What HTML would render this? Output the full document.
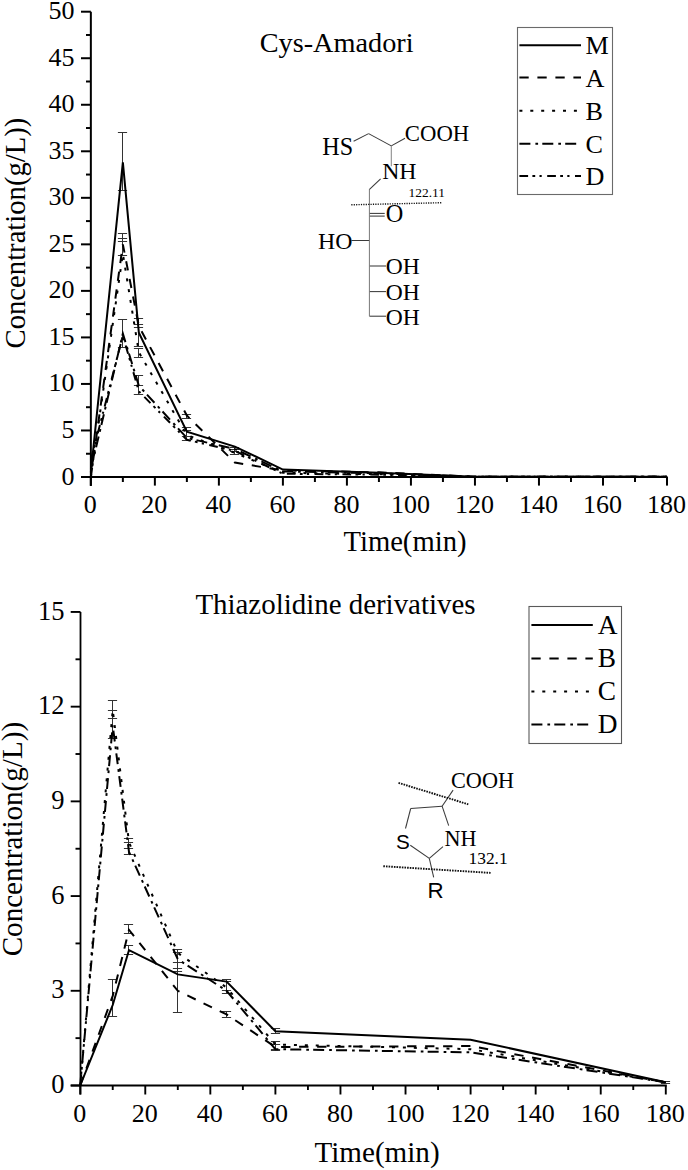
<!DOCTYPE html><html><head><meta charset="utf-8"><style>html,body{margin:0;padding:0;background:#fff;}svg{display:block;}</style></head><body>
<svg width="688" height="1170" viewBox="0 0 688 1170">
<rect width="688" height="1170" fill="#fff"/>
<line x1="122.50" y1="190.50" x2="122.50" y2="132.50" stroke="#333" stroke-width="1" />
<line x1="117.90" y1="190.50" x2="127.10" y2="190.50" stroke="#333" stroke-width="1" />
<line x1="117.90" y1="132.50" x2="127.10" y2="132.50" stroke="#333" stroke-width="1" />
<line x1="122.50" y1="255.50" x2="122.50" y2="233.50" stroke="#333" stroke-width="1" />
<line x1="117.90" y1="255.50" x2="127.10" y2="255.50" stroke="#333" stroke-width="1" />
<line x1="117.90" y1="233.50" x2="127.10" y2="233.50" stroke="#333" stroke-width="1" />
<line x1="122.50" y1="241.50" x2="122.50" y2="238.50" stroke="#333" stroke-width="1" />
<line x1="117.90" y1="241.50" x2="127.10" y2="241.50" stroke="#333" stroke-width="1" />
<line x1="117.90" y1="238.50" x2="127.10" y2="238.50" stroke="#333" stroke-width="1" />
<line x1="122.50" y1="347.50" x2="122.50" y2="319.50" stroke="#333" stroke-width="1" />
<line x1="117.90" y1="347.50" x2="127.10" y2="347.50" stroke="#333" stroke-width="1" />
<line x1="117.90" y1="319.50" x2="127.10" y2="319.50" stroke="#333" stroke-width="1" />
<line x1="138.50" y1="346.50" x2="138.50" y2="318.50" stroke="#333" stroke-width="1" />
<line x1="133.90" y1="346.50" x2="143.10" y2="346.50" stroke="#333" stroke-width="1" />
<line x1="133.90" y1="318.50" x2="143.10" y2="318.50" stroke="#333" stroke-width="1" />
<line x1="138.50" y1="327.50" x2="138.50" y2="324.50" stroke="#333" stroke-width="1" />
<line x1="133.90" y1="327.50" x2="143.10" y2="327.50" stroke="#333" stroke-width="1" />
<line x1="133.90" y1="324.50" x2="143.10" y2="324.50" stroke="#333" stroke-width="1" />
<line x1="138.50" y1="357.50" x2="138.50" y2="348.50" stroke="#333" stroke-width="1" />
<line x1="133.90" y1="357.50" x2="143.10" y2="357.50" stroke="#333" stroke-width="1" />
<line x1="133.90" y1="348.50" x2="143.10" y2="348.50" stroke="#333" stroke-width="1" />
<line x1="138.50" y1="394.50" x2="138.50" y2="375.50" stroke="#333" stroke-width="1" />
<line x1="133.90" y1="394.50" x2="143.10" y2="394.50" stroke="#333" stroke-width="1" />
<line x1="133.90" y1="375.50" x2="143.10" y2="375.50" stroke="#333" stroke-width="1" />
<line x1="138.50" y1="394.50" x2="138.50" y2="385.50" stroke="#333" stroke-width="1" />
<line x1="133.90" y1="394.50" x2="143.10" y2="394.50" stroke="#333" stroke-width="1" />
<line x1="133.90" y1="385.50" x2="143.10" y2="385.50" stroke="#333" stroke-width="1" />
<line x1="186.50" y1="436.50" x2="186.50" y2="427.50" stroke="#333" stroke-width="1" />
<line x1="181.90" y1="436.50" x2="191.10" y2="436.50" stroke="#333" stroke-width="1" />
<line x1="181.90" y1="427.50" x2="191.10" y2="427.50" stroke="#333" stroke-width="1" />
<line x1="186.50" y1="418.50" x2="186.50" y2="414.50" stroke="#333" stroke-width="1" />
<line x1="181.90" y1="418.50" x2="191.10" y2="418.50" stroke="#333" stroke-width="1" />
<line x1="181.90" y1="414.50" x2="191.10" y2="414.50" stroke="#333" stroke-width="1" />
<line x1="186.50" y1="440.50" x2="186.50" y2="430.50" stroke="#333" stroke-width="1" />
<line x1="181.90" y1="440.50" x2="191.10" y2="440.50" stroke="#333" stroke-width="1" />
<line x1="181.90" y1="430.50" x2="191.10" y2="430.50" stroke="#333" stroke-width="1" />
<line x1="234.50" y1="454.50" x2="234.50" y2="447.50" stroke="#333" stroke-width="1" />
<line x1="229.90" y1="454.50" x2="239.10" y2="454.50" stroke="#333" stroke-width="1" />
<line x1="229.90" y1="447.50" x2="239.10" y2="447.50" stroke="#333" stroke-width="1" />
<line x1="234.50" y1="451.50" x2="234.50" y2="449.50" stroke="#333" stroke-width="1" />
<line x1="229.90" y1="451.50" x2="239.10" y2="451.50" stroke="#333" stroke-width="1" />
<line x1="229.90" y1="449.50" x2="239.10" y2="449.50" stroke="#333" stroke-width="1" />
<polyline points="90.85,472.35 122.86,162.46 138.86,332.76 186.87,431.59 234.89,446.57 282.90,469.56 378.92,472.81 474.95,476.81 666.99,476.81" fill="none" stroke="#000" stroke-width="2.0" stroke-linejoin="miter" />
<polyline points="90.85,477.00 122.86,244.35 138.86,326.24 186.87,415.58 234.89,462.58 282.90,470.49 378.92,472.35 474.95,476.81 666.99,476.81" fill="none" stroke="#000" stroke-width="2.0" stroke-linejoin="miter" stroke-dasharray="9.3 8.7"/>
<polyline points="90.85,477.00 122.86,253.66 138.86,352.30 186.87,435.12 234.89,452.80 282.90,472.81 378.92,474.21 474.95,476.81 666.99,476.81" fill="none" stroke="#000" stroke-width="2.0" stroke-linejoin="miter" stroke-dasharray="3 7.9"/>
<polyline points="90.85,469.56 122.86,333.69 138.86,385.80 186.87,437.91 234.89,449.08 282.90,471.42 378.92,473.28 474.95,476.81 666.99,476.81" fill="none" stroke="#000" stroke-width="2.0" stroke-linejoin="miter" stroke-dasharray="11 5 2.7 4.2"/>
<polyline points="90.85,460.25 122.86,335.55 138.86,391.38 186.87,439.78 234.89,450.94 282.90,473.74 378.92,474.67 474.95,476.81 666.99,476.81" fill="none" stroke="#000" stroke-width="2.0" stroke-linejoin="miter" stroke-dasharray="8.7 4.3 2.8 4.3 2.2 5.5"/>
<line x1="90.85" y1="11.70" x2="90.85" y2="486.00" stroke="#000" stroke-width="2.0" />
<line x1="81.00" y1="477.00" x2="667.50" y2="477.00" stroke="#000" stroke-width="2.0" />
<line x1="81.00" y1="477.00" x2="90.85" y2="477.00" stroke="#000" stroke-width="2.0" />
<text x="74.50" y="484.50" font-size="26" text-anchor="end" font-family='"Liberation Serif", serif' >0</text>
<line x1="81.00" y1="430.47" x2="90.85" y2="430.47" stroke="#000" stroke-width="2.0" />
<text x="74.50" y="437.97" font-size="26" text-anchor="end" font-family='"Liberation Serif", serif' >5</text>
<line x1="81.00" y1="383.94" x2="90.85" y2="383.94" stroke="#000" stroke-width="2.0" />
<text x="74.50" y="391.44" font-size="26" text-anchor="end" font-family='"Liberation Serif", serif' >10</text>
<line x1="81.00" y1="337.41" x2="90.85" y2="337.41" stroke="#000" stroke-width="2.0" />
<text x="74.50" y="344.91" font-size="26" text-anchor="end" font-family='"Liberation Serif", serif' >15</text>
<line x1="81.00" y1="290.88" x2="90.85" y2="290.88" stroke="#000" stroke-width="2.0" />
<text x="74.50" y="298.38" font-size="26" text-anchor="end" font-family='"Liberation Serif", serif' >20</text>
<line x1="81.00" y1="244.35" x2="90.85" y2="244.35" stroke="#000" stroke-width="2.0" />
<text x="74.50" y="251.85" font-size="26" text-anchor="end" font-family='"Liberation Serif", serif' >25</text>
<line x1="81.00" y1="197.82" x2="90.85" y2="197.82" stroke="#000" stroke-width="2.0" />
<text x="74.50" y="205.32" font-size="26" text-anchor="end" font-family='"Liberation Serif", serif' >30</text>
<line x1="81.00" y1="151.29" x2="90.85" y2="151.29" stroke="#000" stroke-width="2.0" />
<text x="74.50" y="158.79" font-size="26" text-anchor="end" font-family='"Liberation Serif", serif' >35</text>
<line x1="81.00" y1="104.76" x2="90.85" y2="104.76" stroke="#000" stroke-width="2.0" />
<text x="74.50" y="112.26" font-size="26" text-anchor="end" font-family='"Liberation Serif", serif' >40</text>
<line x1="81.00" y1="58.23" x2="90.85" y2="58.23" stroke="#000" stroke-width="2.0" />
<text x="74.50" y="65.73" font-size="26" text-anchor="end" font-family='"Liberation Serif", serif' >45</text>
<line x1="81.00" y1="11.70" x2="90.85" y2="11.70" stroke="#000" stroke-width="2.0" />
<text x="74.50" y="19.20" font-size="26" text-anchor="end" font-family='"Liberation Serif", serif' >50</text>
<line x1="86.00" y1="453.74" x2="90.85" y2="453.74" stroke="#000" stroke-width="2.0" />
<line x1="86.00" y1="407.21" x2="90.85" y2="407.21" stroke="#000" stroke-width="2.0" />
<line x1="86.00" y1="360.68" x2="90.85" y2="360.68" stroke="#000" stroke-width="2.0" />
<line x1="86.00" y1="314.14" x2="90.85" y2="314.14" stroke="#000" stroke-width="2.0" />
<line x1="86.00" y1="267.62" x2="90.85" y2="267.62" stroke="#000" stroke-width="2.0" />
<line x1="86.00" y1="221.09" x2="90.85" y2="221.09" stroke="#000" stroke-width="2.0" />
<line x1="86.00" y1="174.56" x2="90.85" y2="174.56" stroke="#000" stroke-width="2.0" />
<line x1="86.00" y1="128.03" x2="90.85" y2="128.03" stroke="#000" stroke-width="2.0" />
<line x1="86.00" y1="81.50" x2="90.85" y2="81.50" stroke="#000" stroke-width="2.0" />
<line x1="86.00" y1="34.97" x2="90.85" y2="34.97" stroke="#000" stroke-width="2.0" />
<line x1="90.85" y1="477.00" x2="90.85" y2="485.60" stroke="#000" stroke-width="2.0" />
<text x="90.35" y="512.50" font-size="26" text-anchor="middle" font-family='"Liberation Serif", serif' >0</text>
<line x1="154.87" y1="477.00" x2="154.87" y2="485.60" stroke="#000" stroke-width="2.0" />
<text x="154.37" y="512.50" font-size="26" text-anchor="middle" font-family='"Liberation Serif", serif' >20</text>
<line x1="218.88" y1="477.00" x2="218.88" y2="485.60" stroke="#000" stroke-width="2.0" />
<text x="218.38" y="512.50" font-size="26" text-anchor="middle" font-family='"Liberation Serif", serif' >40</text>
<line x1="282.90" y1="477.00" x2="282.90" y2="485.60" stroke="#000" stroke-width="2.0" />
<text x="282.40" y="512.50" font-size="26" text-anchor="middle" font-family='"Liberation Serif", serif' >60</text>
<line x1="346.91" y1="477.00" x2="346.91" y2="485.60" stroke="#000" stroke-width="2.0" />
<text x="346.41" y="512.50" font-size="26" text-anchor="middle" font-family='"Liberation Serif", serif' >80</text>
<line x1="410.93" y1="477.00" x2="410.93" y2="485.60" stroke="#000" stroke-width="2.0" />
<text x="410.43" y="512.50" font-size="26" text-anchor="middle" font-family='"Liberation Serif", serif' >100</text>
<line x1="474.95" y1="477.00" x2="474.95" y2="485.60" stroke="#000" stroke-width="2.0" />
<text x="474.45" y="512.50" font-size="26" text-anchor="middle" font-family='"Liberation Serif", serif' >120</text>
<line x1="538.96" y1="477.00" x2="538.96" y2="485.60" stroke="#000" stroke-width="2.0" />
<text x="538.46" y="512.50" font-size="26" text-anchor="middle" font-family='"Liberation Serif", serif' >140</text>
<line x1="602.98" y1="477.00" x2="602.98" y2="485.60" stroke="#000" stroke-width="2.0" />
<text x="602.48" y="512.50" font-size="26" text-anchor="middle" font-family='"Liberation Serif", serif' >160</text>
<line x1="666.99" y1="477.00" x2="666.99" y2="485.60" stroke="#000" stroke-width="2.0" />
<text x="666.49" y="512.50" font-size="26" text-anchor="middle" font-family='"Liberation Serif", serif' >180</text>
<line x1="122.86" y1="477.00" x2="122.86" y2="482.00" stroke="#000" stroke-width="2.0" />
<line x1="186.87" y1="477.00" x2="186.87" y2="482.00" stroke="#000" stroke-width="2.0" />
<line x1="250.89" y1="477.00" x2="250.89" y2="482.00" stroke="#000" stroke-width="2.0" />
<line x1="314.91" y1="477.00" x2="314.91" y2="482.00" stroke="#000" stroke-width="2.0" />
<line x1="378.92" y1="477.00" x2="378.92" y2="482.00" stroke="#000" stroke-width="2.0" />
<line x1="442.94" y1="477.00" x2="442.94" y2="482.00" stroke="#000" stroke-width="2.0" />
<line x1="506.95" y1="477.00" x2="506.95" y2="482.00" stroke="#000" stroke-width="2.0" />
<line x1="570.97" y1="477.00" x2="570.97" y2="482.00" stroke="#000" stroke-width="2.0" />
<line x1="634.99" y1="477.00" x2="634.99" y2="482.00" stroke="#000" stroke-width="2.0" />
<text transform="translate(404.97,551.38)" font-size="28.65" text-anchor="middle" font-family='"Liberation Serif", serif'>Time(min)</text>
<text transform="translate(25.32,233.03) rotate(-90)" font-size="28.67" text-anchor="middle" font-family='"Liberation Serif", serif'>Concentration(g/L))</text>
<text transform="translate(336.63,52.12)" font-size="28.29" text-anchor="middle" font-family='"Liberation Serif", serif'>Cys-Amadori</text>
<rect x="517.5" y="27.5" width="95" height="167" fill="#fff" stroke="#6a6a6a" stroke-width="1.1"/>
<polyline points="519.40,45.20 581.00,45.20" fill="none" stroke="#000" stroke-width="2.0" stroke-linejoin="miter" />
<text transform="translate(585.52,54.28)" font-size="26.17" text-anchor="start" font-family='"Liberation Serif", serif'>M</text>
<polyline points="519.40,77.60 581.00,77.60" fill="none" stroke="#000" stroke-width="2.0" stroke-linejoin="miter" stroke-dasharray="9.3 8.7"/>
<text transform="translate(585.52,86.68)" font-size="26.17" text-anchor="start" font-family='"Liberation Serif", serif'>A</text>
<polyline points="519.40,110.80 581.00,110.80" fill="none" stroke="#000" stroke-width="2.0" stroke-linejoin="miter" stroke-dasharray="3 7.9"/>
<text transform="translate(585.52,119.88)" font-size="26.17" text-anchor="start" font-family='"Liberation Serif", serif'>B</text>
<polyline points="519.40,143.80 581.00,143.80" fill="none" stroke="#000" stroke-width="2.0" stroke-linejoin="miter" stroke-dasharray="11 5 2.7 4.2"/>
<text transform="translate(585.52,152.88)" font-size="26.17" text-anchor="start" font-family='"Liberation Serif", serif'>C</text>
<polyline points="519.40,176.00 581.00,176.00" fill="none" stroke="#000" stroke-width="2.0" stroke-linejoin="miter" stroke-dasharray="8.7 4.3 2.8 4.3 2.2 5.5"/>
<text transform="translate(585.52,185.08)" font-size="26.17" text-anchor="start" font-family='"Liberation Serif", serif'>D</text>
<line x1="353.60" y1="141.30" x2="368.60" y2="133.60" stroke="#3a3a3a" stroke-width="1.05" />
<line x1="368.60" y1="133.60" x2="391.30" y2="145.90" stroke="#3a3a3a" stroke-width="1.05" />
<line x1="391.30" y1="145.90" x2="405.00" y2="138.30" stroke="#3a3a3a" stroke-width="1.05" />
<line x1="380.60" y1="178.90" x2="369.20" y2="189.60" stroke="#3a3a3a" stroke-width="1.05" />
<line x1="369.40" y1="213.40" x2="384.70" y2="213.40" stroke="#3a3a3a" stroke-width="1.05" />
<line x1="369.40" y1="216.10" x2="384.70" y2="216.10" stroke="#3a3a3a" stroke-width="1.05" />
<line x1="351.50" y1="240.50" x2="369.40" y2="240.50" stroke="#3a3a3a" stroke-width="1.05" />
<line x1="369.40" y1="266.00" x2="386.00" y2="266.00" stroke="#3a3a3a" stroke-width="1.05" />
<line x1="369.40" y1="291.60" x2="386.00" y2="291.60" stroke="#3a3a3a" stroke-width="1.05" />
<line x1="369.40" y1="316.20" x2="386.00" y2="316.20" stroke="#3a3a3a" stroke-width="1.05" />
<line x1="369.40" y1="189.60" x2="369.40" y2="316.20" stroke="#777" stroke-width="1.0" />
<line x1="391.30" y1="145.90" x2="391.30" y2="166.20" stroke="#888" stroke-width="1.05" />
<text transform="translate(322.29,155.24)" font-size="24.16" text-anchor="start" font-family='"Liberation Serif", serif'>HS</text>
<text transform="translate(404.85,141.26)" font-size="22.73" text-anchor="start" font-family='"Liberation Serif", serif'>COOH</text>
<text transform="translate(382.22,179.44)" font-size="23.76" text-anchor="start" font-family='"Liberation Serif", serif'>NH</text>
<text transform="translate(408.57,196.83)" font-size="13.41" text-anchor="start" font-family='"Liberation Serif", serif'>122.11</text>
<text transform="translate(385.81,222.26)" font-size="24.31" text-anchor="start" font-family='"Liberation Serif", serif'>O</text>
<text transform="translate(317.98,249.12)" font-size="23.84" text-anchor="start" font-family='"Liberation Serif", serif'>HO</text>
<text transform="translate(385.80,274.24)" font-size="23.57" text-anchor="start" font-family='"Liberation Serif", serif'>OH</text>
<text transform="translate(385.80,300.24)" font-size="23.57" text-anchor="start" font-family='"Liberation Serif", serif'>OH</text>
<text transform="translate(385.80,325.46)" font-size="23.57" text-anchor="start" font-family='"Liberation Serif", serif'>OH</text>
<line x1="351.3" y1="204.8" x2="442.5" y2="202.7" stroke="#111" stroke-width="1.4" stroke-dasharray="1.2 1.2"/>
<line x1="112.50" y1="1016.50" x2="112.50" y2="979.50" stroke="#333" stroke-width="1" />
<line x1="107.90" y1="1016.50" x2="117.10" y2="1016.50" stroke="#333" stroke-width="1" />
<line x1="107.90" y1="979.50" x2="117.10" y2="979.50" stroke="#333" stroke-width="1" />
<line x1="112.50" y1="718.50" x2="112.50" y2="700.50" stroke="#333" stroke-width="1" />
<line x1="107.90" y1="718.50" x2="117.10" y2="718.50" stroke="#333" stroke-width="1" />
<line x1="107.90" y1="700.50" x2="117.10" y2="700.50" stroke="#333" stroke-width="1" />
<line x1="112.50" y1="738.50" x2="112.50" y2="710.50" stroke="#333" stroke-width="1" />
<line x1="107.90" y1="738.50" x2="117.10" y2="738.50" stroke="#333" stroke-width="1" />
<line x1="107.90" y1="710.50" x2="117.10" y2="710.50" stroke="#333" stroke-width="1" />
<line x1="128.50" y1="933.50" x2="128.50" y2="924.50" stroke="#333" stroke-width="1" />
<line x1="123.90" y1="933.50" x2="133.10" y2="933.50" stroke="#333" stroke-width="1" />
<line x1="123.90" y1="924.50" x2="133.10" y2="924.50" stroke="#333" stroke-width="1" />
<line x1="128.50" y1="954.50" x2="128.50" y2="945.50" stroke="#333" stroke-width="1" />
<line x1="123.90" y1="954.50" x2="133.10" y2="954.50" stroke="#333" stroke-width="1" />
<line x1="123.90" y1="945.50" x2="133.10" y2="945.50" stroke="#333" stroke-width="1" />
<line x1="128.50" y1="854.50" x2="128.50" y2="838.50" stroke="#333" stroke-width="1" />
<line x1="123.90" y1="854.50" x2="133.10" y2="854.50" stroke="#333" stroke-width="1" />
<line x1="123.90" y1="838.50" x2="133.10" y2="838.50" stroke="#333" stroke-width="1" />
<line x1="128.50" y1="848.50" x2="128.50" y2="842.50" stroke="#333" stroke-width="1" />
<line x1="123.90" y1="848.50" x2="133.10" y2="848.50" stroke="#333" stroke-width="1" />
<line x1="123.90" y1="842.50" x2="133.10" y2="842.50" stroke="#333" stroke-width="1" />
<line x1="177.50" y1="1012.50" x2="177.50" y2="968.50" stroke="#333" stroke-width="1" />
<line x1="172.90" y1="1012.50" x2="182.10" y2="1012.50" stroke="#333" stroke-width="1" />
<line x1="172.90" y1="968.50" x2="182.10" y2="968.50" stroke="#333" stroke-width="1" />
<line x1="177.50" y1="962.50" x2="177.50" y2="949.50" stroke="#333" stroke-width="1" />
<line x1="172.90" y1="962.50" x2="182.10" y2="962.50" stroke="#333" stroke-width="1" />
<line x1="172.90" y1="949.50" x2="182.10" y2="949.50" stroke="#333" stroke-width="1" />
<line x1="177.50" y1="971.50" x2="177.50" y2="952.50" stroke="#333" stroke-width="1" />
<line x1="172.90" y1="971.50" x2="182.10" y2="971.50" stroke="#333" stroke-width="1" />
<line x1="172.90" y1="952.50" x2="182.10" y2="952.50" stroke="#333" stroke-width="1" />
<line x1="226.50" y1="1017.50" x2="226.50" y2="1011.50" stroke="#333" stroke-width="1" />
<line x1="221.90" y1="1017.50" x2="231.10" y2="1017.50" stroke="#333" stroke-width="1" />
<line x1="221.90" y1="1011.50" x2="231.10" y2="1011.50" stroke="#333" stroke-width="1" />
<line x1="226.50" y1="993.50" x2="226.50" y2="981.50" stroke="#333" stroke-width="1" />
<line x1="221.90" y1="993.50" x2="231.10" y2="993.50" stroke="#333" stroke-width="1" />
<line x1="221.90" y1="981.50" x2="231.10" y2="981.50" stroke="#333" stroke-width="1" />
<line x1="226.50" y1="990.50" x2="226.50" y2="979.50" stroke="#333" stroke-width="1" />
<line x1="221.90" y1="990.50" x2="231.10" y2="990.50" stroke="#333" stroke-width="1" />
<line x1="221.90" y1="979.50" x2="231.10" y2="979.50" stroke="#333" stroke-width="1" />
<line x1="275.50" y1="1050.50" x2="275.50" y2="1044.50" stroke="#333" stroke-width="1" />
<line x1="270.90" y1="1050.50" x2="280.10" y2="1050.50" stroke="#333" stroke-width="1" />
<line x1="270.90" y1="1044.50" x2="280.10" y2="1044.50" stroke="#333" stroke-width="1" />
<line x1="275.50" y1="1049.50" x2="275.50" y2="1041.50" stroke="#333" stroke-width="1" />
<line x1="270.90" y1="1049.50" x2="280.10" y2="1049.50" stroke="#333" stroke-width="1" />
<line x1="270.90" y1="1041.50" x2="280.10" y2="1041.50" stroke="#333" stroke-width="1" />
<line x1="275.50" y1="1033.50" x2="275.50" y2="1028.50" stroke="#333" stroke-width="1" />
<line x1="270.90" y1="1033.50" x2="280.10" y2="1033.50" stroke="#333" stroke-width="1" />
<line x1="270.90" y1="1028.50" x2="280.10" y2="1028.50" stroke="#333" stroke-width="1" />
<line x1="665.50" y1="1083.50" x2="665.50" y2="1081.50" stroke="#333" stroke-width="1" />
<line x1="660.90" y1="1083.50" x2="670.10" y2="1083.50" stroke="#333" stroke-width="1" />
<line x1="660.90" y1="1081.50" x2="670.10" y2="1081.50" stroke="#333" stroke-width="1" />
<polyline points="80.20,1085.50 112.73,1005.00 129.00,950.06 177.80,974.37 226.60,981.63 275.40,1031.20 470.60,1039.72 665.79,1082.34" fill="none" stroke="#000" stroke-width="2.0" stroke-linejoin="miter" />
<polyline points="80.20,1085.50 112.73,995.84 129.00,929.86 177.80,990.79 226.60,1014.47 275.40,1046.98 470.60,1046.04 665.79,1082.34" fill="none" stroke="#000" stroke-width="2.0" stroke-linejoin="miter" stroke-dasharray="9.3 8.7"/>
<polyline points="80.20,1085.50 112.73,709.82 129.00,842.41 177.80,952.91 226.60,987.63 275.40,1044.46 470.60,1049.19 665.79,1082.34" fill="none" stroke="#000" stroke-width="2.0" stroke-linejoin="miter" stroke-dasharray="3 7.9"/>
<polyline points="80.20,1085.50 112.73,725.60 129.00,851.88 177.80,959.22 226.60,990.79 275.40,1049.19 470.60,1052.35 665.79,1082.34" fill="none" stroke="#000" stroke-width="2.0" stroke-linejoin="miter" stroke-dasharray="11 5 2.7 4.2"/>
<line x1="80.50" y1="612.00" x2="80.50" y2="1094.50" stroke="#000" stroke-width="1.8" />
<line x1="70.70" y1="1085.60" x2="666.80" y2="1085.60" stroke="#000" stroke-width="2.0" />
<line x1="70.70" y1="1085.50" x2="80.50" y2="1085.50" stroke="#000" stroke-width="1.9" />
<text x="64.50" y="1093.10" font-size="26.5" text-anchor="end" font-family='"Liberation Serif", serif' >0</text>
<line x1="70.70" y1="990.79" x2="80.50" y2="990.79" stroke="#000" stroke-width="1.9" />
<text x="64.50" y="998.39" font-size="26.5" text-anchor="end" font-family='"Liberation Serif", serif' >3</text>
<line x1="70.70" y1="896.08" x2="80.50" y2="896.08" stroke="#000" stroke-width="1.9" />
<text x="64.50" y="903.68" font-size="26.5" text-anchor="end" font-family='"Liberation Serif", serif' >6</text>
<line x1="70.70" y1="801.37" x2="80.50" y2="801.37" stroke="#000" stroke-width="1.9" />
<text x="64.50" y="808.97" font-size="26.5" text-anchor="end" font-family='"Liberation Serif", serif' >9</text>
<line x1="70.70" y1="706.66" x2="80.50" y2="706.66" stroke="#000" stroke-width="1.9" />
<text x="64.50" y="714.26" font-size="26.5" text-anchor="end" font-family='"Liberation Serif", serif' >12</text>
<line x1="70.70" y1="611.95" x2="80.50" y2="611.95" stroke="#000" stroke-width="1.9" />
<text x="64.50" y="619.55" font-size="26.5" text-anchor="end" font-family='"Liberation Serif", serif' >15</text>
<line x1="75.50" y1="1038.14" x2="80.50" y2="1038.14" stroke="#000" stroke-width="1.9" />
<line x1="75.50" y1="943.43" x2="80.50" y2="943.43" stroke="#000" stroke-width="1.9" />
<line x1="75.50" y1="848.73" x2="80.50" y2="848.73" stroke="#000" stroke-width="1.9" />
<line x1="75.50" y1="754.01" x2="80.50" y2="754.01" stroke="#000" stroke-width="1.9" />
<line x1="75.50" y1="659.31" x2="80.50" y2="659.31" stroke="#000" stroke-width="1.9" />
<line x1="80.20" y1="1085.60" x2="80.20" y2="1094.50" stroke="#000" stroke-width="1.9" />
<text x="79.70" y="1121.50" font-size="26" text-anchor="middle" font-family='"Liberation Serif", serif' >0</text>
<line x1="145.27" y1="1085.60" x2="145.27" y2="1094.50" stroke="#000" stroke-width="1.9" />
<text x="144.77" y="1121.50" font-size="26" text-anchor="middle" font-family='"Liberation Serif", serif' >20</text>
<line x1="210.33" y1="1085.60" x2="210.33" y2="1094.50" stroke="#000" stroke-width="1.9" />
<text x="209.83" y="1121.50" font-size="26" text-anchor="middle" font-family='"Liberation Serif", serif' >40</text>
<line x1="275.40" y1="1085.60" x2="275.40" y2="1094.50" stroke="#000" stroke-width="1.9" />
<text x="274.90" y="1121.50" font-size="26" text-anchor="middle" font-family='"Liberation Serif", serif' >60</text>
<line x1="340.46" y1="1085.60" x2="340.46" y2="1094.50" stroke="#000" stroke-width="1.9" />
<text x="339.96" y="1121.50" font-size="26" text-anchor="middle" font-family='"Liberation Serif", serif' >80</text>
<line x1="405.53" y1="1085.60" x2="405.53" y2="1094.50" stroke="#000" stroke-width="1.9" />
<text x="405.03" y="1121.50" font-size="26" text-anchor="middle" font-family='"Liberation Serif", serif' >100</text>
<line x1="470.60" y1="1085.60" x2="470.60" y2="1094.50" stroke="#000" stroke-width="1.9" />
<text x="470.10" y="1121.50" font-size="26" text-anchor="middle" font-family='"Liberation Serif", serif' >120</text>
<line x1="535.66" y1="1085.60" x2="535.66" y2="1094.50" stroke="#000" stroke-width="1.9" />
<text x="535.16" y="1121.50" font-size="26" text-anchor="middle" font-family='"Liberation Serif", serif' >140</text>
<line x1="600.73" y1="1085.60" x2="600.73" y2="1094.50" stroke="#000" stroke-width="1.9" />
<text x="600.23" y="1121.50" font-size="26" text-anchor="middle" font-family='"Liberation Serif", serif' >160</text>
<line x1="665.79" y1="1085.60" x2="665.79" y2="1094.50" stroke="#000" stroke-width="1.9" />
<text x="665.29" y="1121.50" font-size="26" text-anchor="middle" font-family='"Liberation Serif", serif' >180</text>
<line x1="112.73" y1="1085.60" x2="112.73" y2="1090.00" stroke="#000" stroke-width="1.9" />
<line x1="177.80" y1="1085.60" x2="177.80" y2="1090.00" stroke="#000" stroke-width="1.9" />
<line x1="242.87" y1="1085.60" x2="242.87" y2="1090.00" stroke="#000" stroke-width="1.9" />
<line x1="307.93" y1="1085.60" x2="307.93" y2="1090.00" stroke="#000" stroke-width="1.9" />
<line x1="373.00" y1="1085.60" x2="373.00" y2="1090.00" stroke="#000" stroke-width="1.9" />
<line x1="438.06" y1="1085.60" x2="438.06" y2="1090.00" stroke="#000" stroke-width="1.9" />
<line x1="503.13" y1="1085.60" x2="503.13" y2="1090.00" stroke="#000" stroke-width="1.9" />
<line x1="568.20" y1="1085.60" x2="568.20" y2="1090.00" stroke="#000" stroke-width="1.9" />
<line x1="633.26" y1="1085.60" x2="633.26" y2="1090.00" stroke="#000" stroke-width="1.9" />
<text transform="translate(377.06,1161.87)" font-size="29.11" text-anchor="middle" font-family='"Liberation Serif", serif'>Time(min)</text>
<text transform="translate(22.34,839.12) rotate(-90)" font-size="29.11" text-anchor="middle" font-family='"Liberation Serif", serif'>Concentration(g/L))</text>
<text transform="translate(335.44,614.42)" font-size="28.92" text-anchor="middle" font-family='"Liberation Serif", serif'>Thiazolidine derivatives</text>
<rect x="529" y="606.5" width="92.5" height="137" fill="#fff" stroke="#5a5a5a" stroke-width="1.1"/>
<polyline points="531.40,625.10 592.80,625.10" fill="none" stroke="#000" stroke-width="2.0" stroke-linejoin="miter" />
<text transform="translate(597.78,633.72)" font-size="27.35" text-anchor="start" font-family='"Liberation Serif", serif'>A</text>
<polyline points="531.40,658.40 592.80,658.40" fill="none" stroke="#000" stroke-width="2.0" stroke-linejoin="miter" stroke-dasharray="9.3 8.7"/>
<text transform="translate(597.78,667.02)" font-size="27.35" text-anchor="start" font-family='"Liberation Serif", serif'>B</text>
<polyline points="531.40,691.50 590.50,691.50" fill="none" stroke="#000" stroke-width="2.0" stroke-linejoin="miter" stroke-dasharray="3 7.9"/>
<text transform="translate(597.78,700.12)" font-size="27.35" text-anchor="start" font-family='"Liberation Serif", serif'>C</text>
<polyline points="531.40,724.40 592.80,724.40" fill="none" stroke="#000" stroke-width="2.0" stroke-linejoin="miter" stroke-dasharray="11 5 2.7 4.2"/>
<text transform="translate(597.78,733.02)" font-size="27.35" text-anchor="start" font-family='"Liberation Serif", serif'>D</text>
<line x1="453.10" y1="790.10" x2="442.10" y2="806.20" stroke="#3a3a3a" stroke-width="1.05" />
<line x1="442.10" y1="806.20" x2="410.70" y2="808.50" stroke="#3a3a3a" stroke-width="1.05" />
<line x1="410.70" y1="808.50" x2="405.50" y2="828.50" stroke="#3a3a3a" stroke-width="1.05" />
<line x1="442.10" y1="806.20" x2="448.70" y2="825.60" stroke="#3a3a3a" stroke-width="1.05" />
<line x1="410.30" y1="845.30" x2="429.30" y2="858.40" stroke="#3a3a3a" stroke-width="1.05" />
<line x1="443.00" y1="846.60" x2="429.30" y2="858.40" stroke="#3a3a3a" stroke-width="1.05" />
<line x1="429.30" y1="858.40" x2="433.70" y2="877.40" stroke="#3a3a3a" stroke-width="1.05" />
<text transform="translate(451.04,788.42)" font-size="22.23" text-anchor="start" font-family='"Liberation Serif", serif'>COOH</text>
<text transform="translate(444.60,845.94)" font-size="22.17" text-anchor="start" font-family='"Liberation Serif", serif'>NH</text>
<text transform="translate(396.00,848.84)" font-size="20.69" text-anchor="start" font-family='"Liberation Sans", sans-serif'>S</text>
<text transform="translate(427.50,898.12)" font-size="22.34" text-anchor="start" font-family='"Liberation Sans", sans-serif'>R</text>
<text transform="translate(468.47,864.16)" font-size="17.41" text-anchor="start" font-family='"Liberation Serif", serif'>132.1</text>
<line x1="398.5" y1="782.9" x2="468.3" y2="804.3" stroke="#111" stroke-width="1.9" stroke-dasharray="1.6 1.05"/>
<line x1="383.3" y1="866.2" x2="490.6" y2="872.9" stroke="#111" stroke-width="1.9" stroke-dasharray="1.6 1.05"/>
</svg></body></html>
